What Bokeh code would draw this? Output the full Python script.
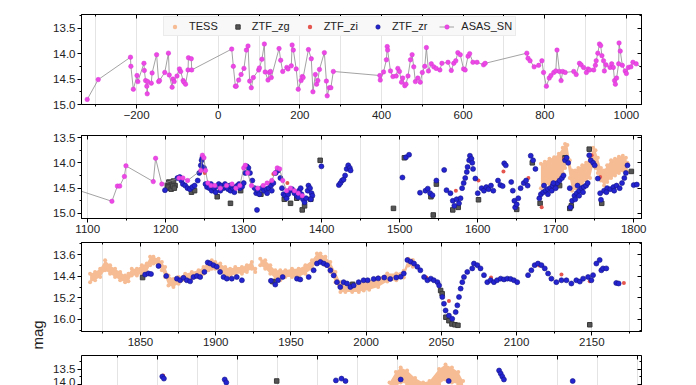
import math
from bokeh.plotting import figure
from bokeh.models import (Range1d, SingleIntervalTicker, Legend, LegendItem, LinearAxis,
                          Title, Grid, NumeralTickFormatter, Span, CustomJSTickFormatter)
from bokeh.layouts import column
from bokeh.embed import file_html
from bokeh.resources import INLINE

FONT = "Liberation Sans"

# ---------------- data (days, magnitude) ----------------
asas_t = [-321, -294, -215, -214, -208, -199, -197, -182, -181, -178,
          -175, -174, -173, -164, -162, -151, -146, -144, -131, -122,
          -120, -113, -111, -108, -101, -95, -92, -86, -84, -80,
          -74, -73, -66, -65, 33, 37, 42, 44, 50, 56,
          63, 69, 73, 77, 81, 86, 99, 101, 107, 113,
          115, 122, 125, 128, 130, 149, 153, 158, 168, 171,
          179, 181, 184, 191, 196, 203, 206, 208, 221, 228,
          232, 238, 241, 244, 248, 260, 265, 267, 272, 276,
          282, 396, 397, 405, 412, 414, 415, 422, 428, 436,
          440, 444, 449, 452, 457, 460, 465, 471, 475, 479,
          483, 489, 495, 500, 506, 510, 515, 522, 528, 534,
          543, 548, 563, 571, 577, 582, 587, 593, 601, 605,
          612, 616, 624, 634, 650, 654, 756, 759, 764, 774,
          785, 793, 797, 804, 811, 815, 822, 827, 830, 836,
          840, 844, 850, 871, 877, 885, 889, 895, 902, 906,
          910, 920, 924, 926, 930, 934, 937, 940, 944, 946,
          950, 960, 964, 968, 971, 973, 976, 981, 982, 985,
          990, 997, 1000, 1005, 1011, 1016, 1024, 1060, 1131, 1138,
          1141, 1147, 1149, 1184, 1187, 1195, 1217, 1222, 1228, 1245,
          1247, 1249, 1251, 1254, 1258, 1263, 1270, 1278, 1285, 1290,
          1295, 1300, 1302, 1305, 1310, 1318, 1325, 1330, 1336, 1340,
          1343, 1346, 1350, 1355, 1360, 1365, 1370, 1375]
asas_mag = [14.90, 14.51, 14.07, 14.25, 14.70, 14.43, 14.55, 14.19, 14.33, 14.53,
            14.64, 14.79, 14.55, 14.58, 14.38, 14.02, 14.55, 14.53, 14.37, 13.99,
            14.42, 14.66, 14.50, 14.55, 14.44, 14.30, 14.35, 14.53, 14.56, 14.60,
            14.32, 14.08, 14.10, 14.32, 13.91, 14.25, 14.64, 14.64, 14.52, 14.41,
            14.29, 13.93, 13.85, 14.54, 14.67, 14.47, 14.32, 14.28, 14.11, 13.81,
            14.36, 14.52, 14.37, 14.35, 14.47, 13.90, 14.13, 14.35, 14.27, 14.30,
            14.24, 13.83, 13.93, 14.30, 14.70, 14.53, 14.45, 14.47, 13.92, 14.10,
            14.75, 14.41, 14.60, 14.53, 14.31, 13.98, 14.54, 14.83, 14.67, 14.67,
            14.35, 14.43, 14.52, 14.36, 14.12, 13.86, 13.93, 14.34, 14.45, 14.44,
            14.29, 14.35, 14.56, 14.48, 14.63, 14.60, 14.44, 14.12, 14.02, 14.26,
            14.55, 14.48, 14.56, 14.37, 14.25, 13.88, 14.34, 14.20, 14.26, 14.29,
            14.32, 14.19, 14.17, 14.33, 14.19, 14.14, 13.98, 14.02, 14.30, 14.32,
            14.05, 14.00, 14.17, 14.17, 14.22, 14.19, 13.99, 14.09, 14.14, 14.26,
            14.23, 14.14, 14.37, 14.64, 14.48, 14.43, 14.37, 14.34, 13.93, 14.35,
            14.53, 14.35, 14.37, 14.35, 14.41, 14.19, 14.22, 14.27, 14.37, 14.30,
            14.32, 14.32, 14.23, 14.14, 13.99, 13.81, 13.84, 14.04, 14.14, 14.34,
            14.22, 14.27, 14.20, 14.27, 14.53, 14.60, 14.48, 14.20, 13.79, 13.95,
            14.23, 14.34, 14.39, 14.27, 14.26, 14.17, 14.20, 14.40, 14.76, 14.46,
            14.46, 14.27, 14.06, 14.37, 13.91, 14.42, 14.30, 14.30, 14.35, 14.15,
            13.85, 13.90, 14.15, 14.40, 14.45, 14.45, 14.50, 14.45, 14.42, 14.50,
            14.45, 14.10, 14.05, 14.20, 14.45, 14.50, 14.45, 14.40, 14.35, 14.20,
            14.10, 14.12, 14.35, 14.55, 14.50, 14.55, 14.60, 14.65]

zr_t = [1199, 1215, 1218, 1220, 1222, 1225, 1228, 1231, 1234, 1237,
        1241, 1243, 1245, 1246, 1247, 1249, 1251, 1253, 1256, 1259,
        1262, 1265, 1268, 1271, 1274, 1277, 1280, 1283, 1286, 1289,
        1292, 1295, 1298, 1300, 1302, 1304, 1306, 1308, 1311, 1314,
        1316, 1317, 1318, 1320, 1323, 1326, 1329, 1332, 1335, 1338,
        1341, 1344, 1347, 1349, 1351, 1353, 1355, 1357, 1359, 1362,
        1365, 1368, 1371, 1374, 1376, 1378, 1380, 1382, 1383, 1385,
        1387, 1388, 1399.6, 1422, 1424, 1426, 1428, 1430, 1432, 1434,
        1436, 1437, 1503.5, 1508, 1512, 1526, 1533, 1536, 1539, 1542,
        1547, 1557, 1560, 1565, 1568, 1570, 1573, 1576, 1578, 1580,
        1582, 1584, 1586, 1587, 1589, 1590, 1592, 1593, 1594, 1597,
        1600, 1605, 1608, 1611, 1614, 1617, 1620, 1626, 1629, 1632,
        1634, 1636, 1643, 1645, 1647, 1648, 1650, 1652, 1655, 1659,
        1662, 1664, 1668, 1671, 1674, 1679, 1681, 1684, 1687, 1690,
        1693, 1696, 1699, 1702, 1705, 1708, 1710, 1712, 1714, 1716,
        1718, 1719, 1721, 1724, 1727, 1730, 1733, 1736, 1739, 1741,
        1743, 1745, 1748, 1750, 1754, 1757, 1758, 1762, 1766, 1770,
        1774, 1778, 1782, 1785, 1788, 1790, 1792, 1800, 1804, 1258,
        1264, 1270, 1276, 1282, 1288, 1294, 1330, 1336, 1370, 1373,
        1386, 1685, 1690, 1695, 1700, 1725, 1730, 1735, 1728, 1765,
        1775, 1697,
        1853.1, 1855.3, 1857, 1862, 1867.1, 1874.2, 1876.4, 1878.6, 1880.8, 1883,
        1885.2, 1887.5, 1889.7, 1892.5, 1894.7, 1896.3, 1898.5, 1900.7, 1902.9, 1905.2,
        1907.4, 1910.7, 1914, 1917.4, 1936.7, 1939.6, 1941.4, 1944.5, 1954, 1956.2,
        1961.8, 1965.1, 1967.3, 1969.6, 1971.8, 1974, 1976.2, 1978.4, 1980.6, 1982.8,
        1985, 1987.3, 1989.5, 1991.7, 1995, 1998.3, 2001, 2005, 2008, 2012,
        2016, 2020, 2023, 2025, 2027.4, 2029.6, 2031.8, 2034, 2036, 2038.5,
        2040.7, 2043, 2045, 2047.4, 2048.5, 2050.6, 2051.7, 2052.8, 2055, 2057.2,
        2059.5, 2060.6, 2061.7, 2062.8, 2063.9, 2065, 2067.2, 2070.5, 2071.6, 2073.9,
        2076, 2078.3, 2080.5, 2082.7, 2084.9, 2087, 2089.4, 2091.6, 2093.8, 2096,
        2098.2, 2100.4, 2107.6, 2109.8, 2112, 2114.2, 2116.5, 2118.7, 2120.9, 2123.1,
        2126.4, 2129.8, 2133.1, 2136.4, 2139.7, 2142, 2144.2, 2147.5, 2149.7, 2150.8,
        2153, 2155.2, 2156.3, 2157.4, 2159.6, 2166.2, 2167.8,
        2306, 2308, 2384, 2386, 2523, 2530, 2535, 2604, 2664, 2727,
        2729, 2731, 2733, 2819]
zr_mag = [14.54, 14.30, 14.28, 14.35, 14.42, 14.45, 14.50, 14.52, 14.48, 14.45,
          14.35, 14.20, 14.05, 13.95, 13.90, 14.10, 14.42, 14.48, 14.50, 14.55,
          14.50, 14.47, 14.42, 14.45, 14.50, 14.48, 14.52, 14.55, 14.50, 14.48,
          14.45, 14.50, 14.47, 14.40, 14.20, 14.07, 14.10, 14.20, 14.35, 14.50,
          14.60, 14.93, 14.55, 14.62, 14.50, 14.55, 14.52, 14.50, 14.45, 14.40,
          14.20, 14.15, 14.30, 14.50, 14.62, 14.65, 14.70, 14.62, 14.55, 14.52,
          14.60, 14.65, 14.55, 14.62, 14.72, 14.78, 14.70, 14.55, 14.45, 14.50,
          14.60, 14.65, 14.07, 14.44, 14.40, 14.35, 14.33, 14.25, 14.12, 14.05,
          14.10, 14.15, 14.29, 13.89, 13.84, 14.59, 14.55, 14.51, 14.60, 14.64,
          14.35, 14.14, 14.54, 14.60, 14.75, 14.85, 14.72, 14.80, 14.70, 14.50,
          14.40, 14.30, 14.18, 14.08, 13.95, 13.86, 13.92, 14.00, 14.12, 14.31,
          14.60, 14.50, 14.55, 14.48, 14.52, 14.45, 14.55, 14.35, 14.44, 14.46,
          14.01, 14.05, 14.38, 14.55, 14.75, 14.88, 14.82, 14.70, 14.50, 14.40,
          14.35, 14.45, 13.86, 13.95, 14.12, 14.70, 14.62, 14.58, 14.55, 14.52,
          14.50, 14.45, 14.42, 14.40, 14.35, 14.30, 14.25, 13.95, 13.90, 14.00,
          14.50, 14.88, 14.75, 14.65, 14.60, 14.55, 14.50, 14.48, 14.45, 14.40,
          13.85, 13.95, 14.00, 14.05, 14.31, 14.60, 14.73, 14.55, 14.50, 14.52,
          14.48, 14.45, 14.50, 14.40, 14.30, 14.20, 14.05, 14.44, 14.43, 14.42,
          14.58, 14.55, 14.42, 14.45, 14.58, 14.42, 14.60, 14.55, 14.68, 14.50,
          14.72, 14.45, 14.62, 14.55, 14.50, 14.72, 14.65, 14.58, 14.45, 14.58,
          14.55, 14.40,
          14.34, 14.30, 14.32, 14.02, 14.39, 14.49, 14.55, 14.46, 14.55, 14.59,
          14.43, 14.39, 14.43, 14.24, 13.89, 13.93, 13.99, 14.05, 14.24, 14.43,
          14.49, 14.49, 14.43, 14.55, 14.57, 14.71, 14.55, 14.43, 14.49, 14.52,
          14.43, 14.18, 13.93, 13.87, 13.93, 13.99, 14.18, 14.37, 14.62, 14.80,
          14.62, 14.67, 14.80, 14.74, 14.62, 14.55, 14.55, 14.50, 14.48, 14.45,
          14.50, 14.45, 14.42, 14.30, 13.80, 13.86, 13.93, 14.05, 14.18, 14.43,
          14.55, 14.49, 14.55, 14.62, 14.74, 15.17, 15.42, 15.67, 15.86, 15.98,
          15.73, 15.48, 15.17, 14.86, 14.62, 14.43, 14.24, 14.11, 13.93, 13.99,
          14.11, 14.36, 14.62, 14.55, 14.62, 14.55, 14.49, 14.52, 14.49, 14.50,
          14.55, 14.62, 14.36, 14.18, 13.99, 13.93, 13.99, 14.11, 14.30, 14.49,
          14.62, 14.55, 14.55, 14.67, 14.55, 14.60, 14.49, 14.43, 14.55, 14.36,
          13.93, 13.80, 14.18, 14.11, 14.11, 14.65, 14.67,
          13.75, 13.82, 13.85, 13.95, 13.88, 13.82, 13.90, 13.85, 13.90, 13.55,
          13.65, 13.75, 13.85, 13.90]

zg_t = [1202, 1204, 1205, 1206, 1208, 1210, 1212, 1203, 1207, 1209,
        1211, 1233, 1237, 1266, 1283, 1296, 1322, 1352, 1360, 1368,
        1375, 1378, 1386, 1398, 1492, 1506, 1540, 1543, 1547, 1568,
        1575, 1601, 1650, 1670, 1680, 1705, 1712, 1718, 1720, 1743,
        1759, 1797, 1851.4, 1938, 1991, 2049.5, 2050.5, 2053, 2055, 2057,
        2059, 2061, 2148.6, 2449]
zg_mag = [14.45, 14.38, 14.50, 14.40, 14.42, 14.36, 14.45, 14.48, 14.52, 14.46,
          14.50, 14.58, 14.55, 14.67, 14.80, 14.55, 14.62, 14.72, 14.80, 14.70,
          14.93, 14.85, 14.72, 13.95, 14.90, 13.90, 14.67, 15.03, 14.42, 14.93,
          14.88, 14.73, 14.92, 14.00, 14.80, 14.45, 13.90, 14.90, 14.85, 13.73,
          14.80, 14.17, 14.45, 14.60, 14.70, 14.93, 15.05, 15.92, 16.05, 16.17,
          16.20, 16.22, 16.20, 13.90]

zi_t = [1245, 1249, 1250, 1255, 1335, 1338, 1356, 1572, 1601, 1633,
        1665, 1682, 1711, 1746, 1757, 2030, 2040, 2055, 2083, 2115,
        2129.8, 2148.6, 2171.3, 2307]
zi_mag = [14.15, 14.12, 14.20, 14.45, 14.40, 14.22, 14.40, 14.55, 14.35, 14.17,
          14.30, 14.88, 13.92, 13.85, 14.28, 13.85, 14.45, 15.32, 14.45, 14.00,
          14.34, 14.59, 14.65, 13.72]

# TESS: time, bright edge, faint edge of the band, sector id
tess_t = [1681, 1686, 1692, 1698, 1704, 1709, 1712, 1715, 1718, 1721,
          1725, 1729, 1734, 1739, 1744, 1748, 1751, 1754, 1758, 1762,
          1766, 1771, 1776, 1781, 1786, 1790, 1792,
          1816.5, 1819.8, 1823.2, 1826.5, 1829.8, 1833.1, 1836.5, 1839.8, 1842, 1844.2,
          1847.6, 1850.9, 1854.2, 1856.4, 1858.6, 1862, 1864.2, 1866.4, 1868.6, 1871.9,
          1875.3, 1879.7, 1884.1, 1888.6, 1891.9, 1895.2, 1897.4, 1899.7, 1903, 1906.3,
          1909.6, 1913, 1917.4, 1920.7, 1924, 1926.3,
          1929.6, 1932.9, 1936.3, 1939.6, 1942.9, 1946.3, 1950.7, 1955.1, 1959.6, 1964,
          1967.3, 1969.6, 1972.9, 1976.2, 1979.6, 1982.9, 1986.2, 1990.7, 1995.1, 1998.4,
          2002, 2008, 2014, 2020, 2025, 2028, 2031,
          2590, 2598, 2604, 2612, 2622, 2632, 2640, 2652, 2660, 2668, 2676, 2682]
tess_hi = [14.02, 13.98, 13.92, 13.89, 13.82, 13.70, 13.63, 13.65, 13.95, 14.15,
           14.15, 14.10, 14.05, 14.00, 13.92, 13.70, 13.75, 13.90, 14.10, 14.15,
           14.05, 13.95, 13.92, 13.88, 13.86, 13.90, 14.00,
           14.31, 14.24, 14.12, 13.81, 13.99, 14.12, 14.24, 14.37, 14.31, 14.12,
           14.12, 13.99, 13.93, 13.68, 13.68, 13.75, 13.87, 14.06, 14.37, 14.50,
           14.43, 14.31, 14.24, 14.18, 14.06, 13.87, 13.81, 13.87, 13.93, 14.06,
           14.12, 14.06, 14.06, 13.99, 13.87, 14.12,
           13.75, 13.81, 13.99, 14.18, 14.18, 14.18, 14.12, 14.12, 13.99, 13.81,
           13.56, 13.56, 13.68, 13.87, 14.24, 14.62, 14.74, 14.68, 14.68, 14.62,
           14.60, 14.45, 14.30, 14.30, 14.20, 13.75, 13.80,
           13.95, 13.60, 13.45, 13.55, 13.80, 13.95, 13.90, 13.50, 13.35, 13.45, 13.60, 13.90]
tess_lo = [14.50, 14.45, 14.42, 14.38, 14.33, 14.20, 14.10, 14.00, 14.30, 14.55,
           14.50, 14.45, 14.42, 14.35, 14.30, 14.05, 14.10, 14.20, 14.35, 14.45,
           14.38, 14.30, 14.25, 14.20, 14.15, 14.15, 14.18,
           14.62, 14.55, 14.43, 14.18, 14.31, 14.43, 14.55, 14.62, 14.59, 14.37,
           14.37, 14.31, 14.24, 13.99, 13.93, 13.99, 14.18, 14.43, 14.74, 14.80,
           14.68, 14.55, 14.49, 14.43, 14.31, 14.18, 14.12, 14.12, 14.24, 14.37,
           14.43, 14.31, 14.31, 14.24, 14.12, 14.24,
           13.99, 14.12, 14.31, 14.49, 14.55, 14.43, 14.43, 14.43, 14.31, 14.12,
           13.87, 13.81, 13.99, 14.24, 14.62, 14.99, 14.99, 14.99, 14.99, 14.93,
           14.90, 14.80, 14.60, 14.55, 14.45, 14.00, 14.05,
           14.30, 14.10, 13.95, 14.00, 14.20, 14.30, 14.30, 14.00, 13.85, 13.95, 14.00, 14.20]
tess_sector = [0] * 27 + [1] * 36 + [2] * 27 + [3] * 12

legend_labels = ["TESS", "ZTF_zg", "ZTF_zi", "ZTF_zr", "ASAS_SN"]

PEACH = "#F6BC94"
GRAY = "#555555"
RED = "#E4564E"
BLUE = "#2424D0"
MAGENTA = "#EC48E6"
GRID = "#E4E4E4"

BLANK = CustomJSTickFormatter(code="return ''")


def style_axis(ax, fmt=None, labels=True):
    ax.axis_line_color = "black"
    ax.major_tick_line_color = "black"
    ax.minor_tick_line_color = "black"
    if labels:
        ax.major_tick_in, ax.major_tick_out = 0, 4
        ax.minor_tick_in, ax.minor_tick_out = 0, 2
        ax.major_label_text_font = FONT
        ax.major_label_text_font_size = "11.5px"
        ax.major_label_text_color = "#222222"
        ax.major_label_standoff = 2
        if fmt:
            ax.formatter = NumeralTickFormatter(format=fmt)
    else:
        # mirrored axes on top / right: inward ticks only
        ax.major_tick_in, ax.major_tick_out = 4, 0
        ax.minor_tick_in, ax.minor_tick_out = 2, 0
        ax.major_label_standoff = 0
        ax.formatter = BLANK


def panel(xr, yr, xint, yint, h, btop, bbot, bottom=True):
    p = figure(width=670, height=h, x_range=Range1d(*xr), y_range=Range1d(*yr),
               output_backend="svg", toolbar_location=None,
               x_axis_location="below" if bottom else None, y_axis_location="left",
               min_border_left=81, min_border_right=29,
               min_border_top=btop, min_border_bottom=bbot)
    p.xgrid.visible = False
    p.ygrid.visible = False
    xt = SingleIntervalTicker(interval=xint, num_minor_ticks=2)
    yt = SingleIntervalTicker(interval=yint, num_minor_ticks=2)
    if bottom:
        p.xaxis[0].ticker = xt
        style_axis(p.xaxis[0])
    p.yaxis[0].ticker = yt
    style_axis(p.yaxis[0], fmt="0.0")
    top_ax = LinearAxis(ticker=xt)
    style_axis(top_ax, labels=False)
    p.add_layout(top_ax, "above")
    right_ax = LinearAxis(ticker=yt)
    style_axis(right_ax, labels=False)
    p.add_layout(right_ax, "right")
    p.add_layout(Grid(dimension=0, ticker=xt, grid_line_color=GRID,
                      minor_grid_line_color=GRID), "center")
    p.background_fill_color = "white"
    p.border_fill_color = "white"
    if bottom:
        p.outline_line_color = "black"
    else:
        # panel runs off the bottom of the page: only top and right borders
        p.outline_line_color = None
        p.add_layout(Span(location=yr[1], dimension="width", line_color="black", line_width=1))
        p.add_layout(Span(location=xr[1], dimension="height", line_color="black", line_width=1))

    # TESS band, one patch per sector
    for s in sorted(set(tess_sector)):
        idx = [i for i, v in enumerate(tess_sector) if v == s]
        p.varea(x=[tess_t[i] for i in idx], y1=[tess_hi[i] for i in idx],
                y2=[tess_lo[i] for i in idx], fill_color=PEACH)
    r_tess = p.scatter(tess_t + tess_t, tess_hi + tess_lo, size=4,
                       fill_color=PEACH, line_color=None)
    r_zg = p.scatter(zg_t, zg_mag, marker="square", size=4.5,
                     fill_color=GRAY, line_color="#3a3a3a")
    r_zi = p.scatter(zi_t, zi_mag, size=4, fill_color=RED, line_color=None)
    r_zr = p.scatter(zr_t, zr_mag, size=5, fill_color=BLUE, line_color="#16168a",
                     line_width=0.6)
    r_line = p.line(asas_t, asas_mag, line_color="#8c8c8c", line_width=0.8)
    r_asas = p.scatter(asas_t, asas_mag, marker="circle", size=4.5,
                       fill_color=MAGENTA, line_color="#d636d2", line_width=0.5)
    return p, [[r_tess], [r_zg], [r_zi], [r_zr], [r_line, r_asas]]


p1, rs = panel((-335, 1037), (15.0, 13.23), 200, 0.5, 130, 14, 26)
p2, _ = panel((1092, 1810), (15.1, 13.46), 100, 0.5, 108, 5, 20)
p3, _ = panel((1810.8, 2183), (16.45, 13.15), 50, 0.8, 112, 4, 19)
p4, _ = panel((2205, 2905), (14.05, 13.05), 100, 0.5, 35, 5, 0, bottom=False)

legend = Legend(items=[LegendItem(label=lab, renderers=r) for lab, r in zip(legend_labels, rs)],
                orientation="horizontal", location=(82, 68),
                label_text_font=FONT, label_text_font_size="11px",
                label_text_color="#222222",
                glyph_width=15, glyph_height=11, label_height=11,
                label_standoff=7, spacing=12, padding=3, margin=0,
                background_fill_color="#F8F8F8", background_fill_alpha=1,
                border_line_color="#DDDDDD")
p1.add_layout(legend, "center")

p3.add_layout(Title(text="mag", align="left", offset=-18, text_font=FONT,
                    text_font_size="15px", text_font_style="normal",
                    text_color="#222222"), "left")

layout = column(p1, p2, p3, p4, spacing=0)
open("out.html", "w").write(file_html(layout, INLINE))
